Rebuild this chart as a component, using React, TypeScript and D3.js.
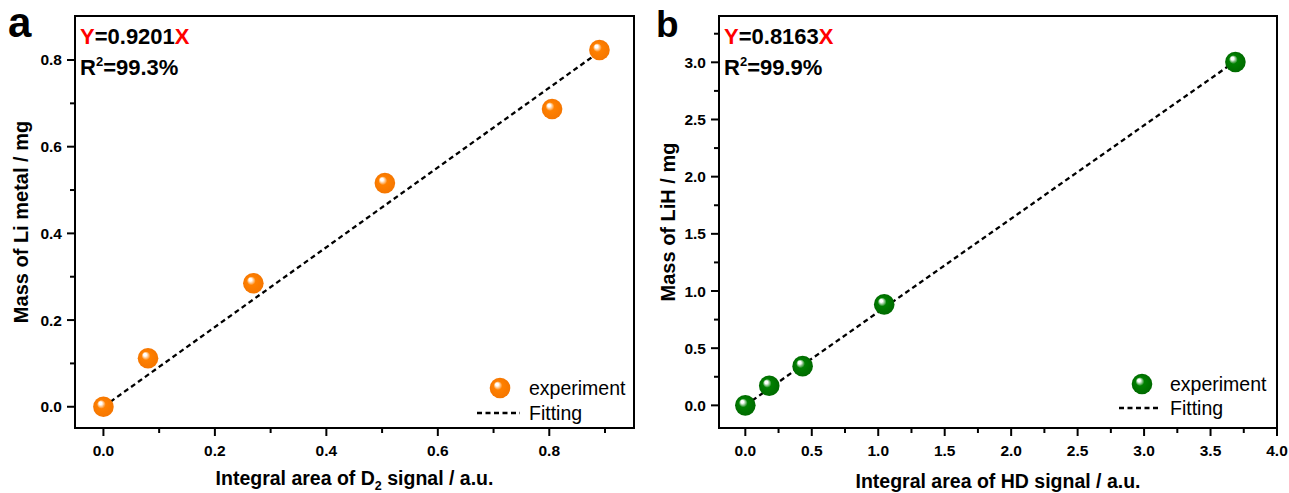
import React from "react";
import * as d3 from "d3";

const xA = [0, 0.08, 0.269, 0.505, 0.805, 0.89];
const yA = [0, 0.112, 0.285, 0.516, 0.687, 0.823];
const slopeA = 0.9201;
const xB = [0, 0.18, 0.431, 1.045, 3.687];
const yB = [0, 0.171, 0.343, 0.883, 3.003];
const slopeB = 0.8163;

const xTicksA = [0, 0.2, 0.4, 0.6, 0.8];
const xMinorA = [0.1, 0.3, 0.5, 0.7, 0.9];
const yTicksA = [0, 0.2, 0.4, 0.6, 0.8];
const yMinorA = [0.1, 0.3, 0.5, 0.7];
const xTicksB = [0, 0.5, 1, 1.5, 2, 2.5, 3, 3.5, 4];
const xMinorB = [0.25, 0.75, 1.25, 1.75, 2.25, 2.75, 3.25, 3.75];
const yTicksB = [0, 0.5, 1, 1.5, 2, 2.5, 3];
const yMinorB = [0.25, 0.75, 1.25, 1.75, 2.25, 2.75, 3.25];

const FONT = "'Liberation Sans', Arial, sans-serif";

type PanelProps = {
  id: string;
  letter: string;
  letterX: number;
  letterSize: number;
  box: { l: number; t: number; r: number; b: number };
  xDomain: [number, number];
  yDomain: [number, number];
  xs: number[];
  ys: number[];
  slope: number;
  slopeText: string;
  r2Text: string;
  xTicks: number[];
  xMinor: number[];
  yTicks: number[];
  yMinor: number[];
  xFmt: (v: number) => string;
  yFmt: (v: number) => string;
  yTitle: string;
  yTitleX: number;
  xTitle: React.ReactNode;
  xTitleY: number;
  color: string;
  colorDark: string;
  legend: { mx: number; my: number; tx: number; ty1: number; ty2: number; lx1: number; lx2: number; ly: number };
};

function Panel(p: PanelProps) {
  const { box } = p;
  const x = d3.scaleLinear().domain(p.xDomain).range([box.l, box.r]);
  const y = d3.scaleLinear().domain(p.yDomain).range([box.b, box.t]);
  const xEnd = d3.max(p.xs) as number;
  const fit = d3.line<number>().x((v) => x(v)).y((v) => y(v * p.slope));
  const gid = "grad-" + p.id;
  const R = 10.3;
  return (
    <g fontFamily={FONT}>
      <defs>
        <radialGradient id={gid} cx="0.5" cy="0.5" r="0.5" fx="0.33" fy="0.3">
          <stop offset="0" stopColor="#ffffff" />
          <stop offset="0.14" stopColor="#ffffff" stopOpacity="0.9" />
          <stop offset="0.42" stopColor={p.color} />
          <stop offset="1" stopColor={p.colorDark} />
        </radialGradient>
      </defs>
      <text x={p.letterX} y={37} fontSize={p.letterSize} fontWeight="bold">{p.letter}</text>
      <path d={fit([0, xEnd]) || ""} fill="none" stroke="#000" strokeWidth={2.3} strokeDasharray="5,3.5" />
      {p.xs.map((v, i) => (
        <circle key={i} cx={x(v)} cy={y(p.ys[i])} r={R} fill={`url(#${gid})`} />
      ))}
      <rect x={box.l} y={box.t} width={box.r - box.l} height={box.b - box.t} fill="none" stroke="#000" strokeWidth={2} />
      {p.xTicks.map((v) => (
        <g key={"xt" + v}>
          <line x1={x(v)} x2={x(v)} y1={box.b} y2={box.b + 8} stroke="#000" strokeWidth={2} />
          <text x={x(v)} y={455.5} textAnchor="middle" fontSize={15.5} fontWeight="bold">{p.xFmt(v)}</text>
        </g>
      ))}
      {p.xMinor.map((v) => (
        <line key={"xm" + v} x1={x(v)} x2={x(v)} y1={box.b} y2={box.b + 5} stroke="#000" strokeWidth={2} />
      ))}
      {p.yTicks.map((v) => (
        <g key={"yt" + v}>
          <line x1={box.l - 8} x2={box.l} y1={y(v)} y2={y(v)} stroke="#000" strokeWidth={2} />
          <text x={box.l - 13} y={y(v) + 5.5} textAnchor="end" fontSize={15.5} fontWeight="bold">{p.yFmt(v)}</text>
        </g>
      ))}
      {p.yMinor.map((v) => (
        <line key={"ym" + v} x1={box.l - 5} x2={box.l} y1={y(v)} y2={y(v)} stroke="#000" strokeWidth={2} />
      ))}
      <text x={box.l + 5} y={43.5} fontSize={22} fontWeight="bold">
        <tspan fill="#ff0000">Y</tspan>
        <tspan fill="#000">{"=" + p.slopeText}</tspan>
        <tspan fill="#ff0000">X</tspan>
      </text>
      <text x={box.l + 5} y={74.5} fontSize={22} fontWeight="bold">
        <tspan>R</tspan>
        <tspan fontSize={13} dy={-9}>2</tspan>
        <tspan dy={9}>{"=" + p.r2Text}</tspan>
      </text>
      <text transform={`translate(${p.yTitleX},${(box.t + box.b) / 2}) rotate(-90)`} textAnchor="middle" fontSize={20} fontWeight="bold">{p.yTitle}</text>
      <text x={(box.l + box.r) / 2} y={p.xTitleY} textAnchor="middle" fontSize={19.5} fontWeight="bold">{p.xTitle}</text>
      <circle cx={p.legend.mx} cy={p.legend.my} r={R} fill={`url(#${gid})`} />
      <text x={p.legend.tx} y={p.legend.ty1} fontSize={19.5}>experiment</text>
      <line x1={p.legend.lx1} x2={p.legend.lx2} y1={p.legend.ly} y2={p.legend.ly} stroke="#000" strokeWidth={2.3} strokeDasharray="5,3.5" />
      <text x={p.legend.tx} y={p.legend.ty2} fontSize={19.5}>Fitting</text>
    </g>
  );
}

export default function App() {
  const f1 = d3.format(".1f");
  return (
    <div style={{ position: "fixed", left: 0, top: 0 }}>
      <svg width={1289} height={493} style={{ display: "block", background: "#fff" }}>
        <Panel
          id="a"
          letter="a"
          letterX={8}
          letterSize={42}
          box={{ l: 75, t: 16, r: 634, b: 428 }}
          xDomain={[-0.051, 0.952]}
          yDomain={[-0.049, 0.9015]}
          xs={xA}
          ys={yA}
          slope={slopeA}
          slopeText="0.9201"
          r2Text="99.3%"
          xTicks={xTicksA}
          xMinor={xMinorA}
          yTicks={yTicksA}
          yMinor={yMinorA}
          xFmt={f1}
          yFmt={f1}
          yTitle="Mass of Li metal / mg"
          yTitleX={28}
          xTitle={<>
            <tspan>Integral area of D</tspan>
            <tspan fontSize={12.5} dy={5}>2</tspan>
            <tspan dy={-5}> signal / a.u.</tspan>
          </>}
          xTitleY={485}
          color="#ff8000"
          colorDark="#f57600"
          legend={{ mx: 500, my: 388, tx: 529, ty1: 395, ty2: 420, lx1: 477, lx2: 520, ly: 413 }}
        />
        <Panel
          id="b"
          letter="b"
          letterX={656}
          letterSize={37}
          box={{ l: 719, t: 16, r: 1277, b: 428 }}
          xDomain={[-0.198, 4.0]}
          yDomain={[-0.198, 3.405]}
          xs={xB}
          ys={yB}
          slope={slopeB}
          slopeText="0.8163"
          r2Text="99.9%"
          xTicks={xTicksB}
          xMinor={xMinorB}
          yTicks={yTicksB}
          yMinor={yMinorB}
          xFmt={f1}
          yFmt={f1}
          yTitle="Mass of LiH / mg"
          yTitleX={675}
          xTitle="Integral area of HD signal / a.u."
          xTitleY={488}
          color="#008000"
          colorDark="#006a00"
          legend={{ mx: 1142, my: 384, tx: 1170, ty1: 391, ty2: 415, lx1: 1119, lx2: 1161, ly: 408 }}
        />
      </svg>
    </div>
  );
}
